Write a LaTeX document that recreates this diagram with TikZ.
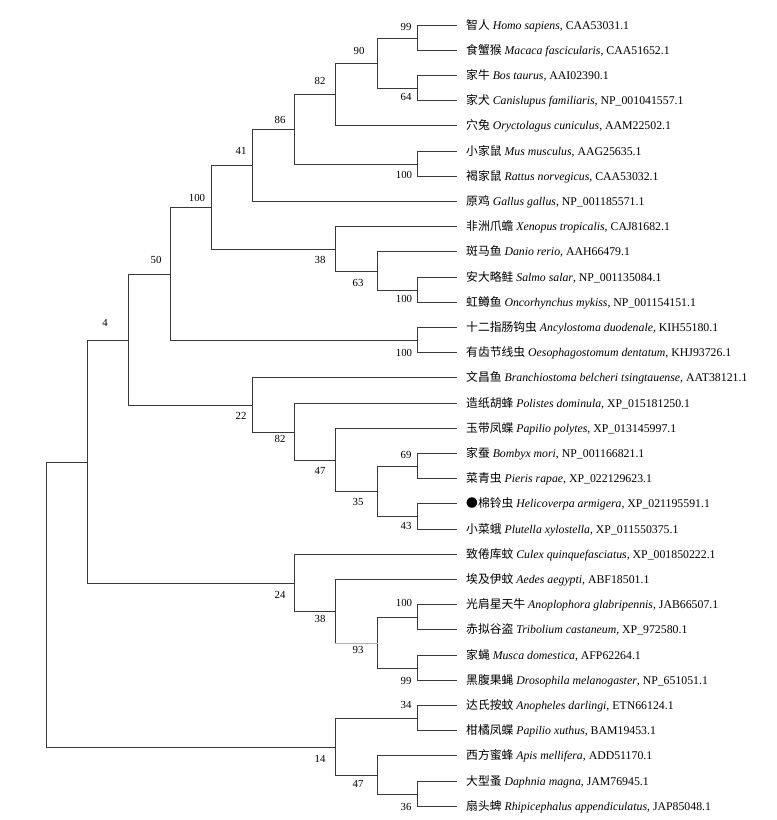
\documentclass[tikz,border=0pt]{standalone}
\usepackage{fontspec}
\setmainfont{Liberation Serif}
\newfontfamily\cjk{Noto Sans CJK SC}
\begin{document}
\begin{tikzpicture}[x=1pt,y=-1pt,
  br/.style={draw=black!78,line width=1.15pt,line cap=rect},
  brgray/.style={draw=black!30,line width=1.3pt,line cap=rect},
  leaf/.style={anchor=west,inner xsep=9.5pt,inner ysep=0pt,font=\fontsize{11.8}{13}\selectfont},
  bs/.style={anchor=center,inner sep=0pt,font=\fontsize{10.8}{12}\selectfont}]
\useasboundingbox (0,0) rectangle (777,820);
% leaves
\node[leaf] (t1) at (456.5,25.5) {{\cjk 智人} \textit{Homo sapiens}, CAA53031.1};
\node[leaf] (t2) at (456.5,50.5) {{\cjk 食蟹猴} \textit{Macaca fascicularis}, CAA51652.1};
\node[leaf] (t3) at (456.5,75.5) {{\cjk 家牛} \textit{Bos taurus}, AAI02390.1};
\node[leaf] (t4) at (456.5,100.5) {{\cjk 家犬} \textit{Canislupus familiaris}, NP\_001041557.1};
\node[leaf] (t5) at (456.5,125.5) {{\cjk 穴兔} \textit{Oryctolagus cuniculus}, AAM22502.1};
\node[leaf] (t6) at (456.5,151.5) {{\cjk 小家鼠} \textit{Mus musculus}, AAG25635.1};
\node[leaf] (t7) at (456.5,176.5) {{\cjk 褐家鼠} \textit{Rattus norvegicus}, CAA53032.1};
\node[leaf] (t8) at (456.5,201.5) {{\cjk 原鸡} \textit{Gallus gallus}, NP\_001185571.1};
\node[leaf] (t9) at (456.5,226.5) {{\cjk 非洲爪蟾} \textit{Xenopus tropicalis}, CAJ81682.1};
\node[leaf] (t10) at (456.5,251.5) {{\cjk 斑马鱼} \textit{Danio rerio}, AAH66479.1};
\node[leaf] (t11) at (456.5,277.5) {{\cjk 安大略鲑} \textit{Salmo salar}, NP\_001135084.1};
\node[leaf] (t12) at (456.5,302.5) {{\cjk 虹鳟鱼} \textit{Oncorhynchus mykiss}, NP\_001154151.1};
\node[leaf] (t13) at (456.5,327.5) {{\cjk 十二指肠钩虫} \textit{Ancylostoma duodenale}, KIH55180.1};
\node[leaf] (t14) at (456.5,352.5) {{\cjk 有齿节线虫} \textit{Oesophagostomum dentatum}, KHJ93726.1};
\node[leaf] (t15) at (456.5,377.5) {{\cjk 文昌鱼} \textit{Branchiostoma belcheri tsingtauense}, AAT38121.1};
\node[leaf] (t16) at (456.5,403.5) {{\cjk 造纸胡蜂} \textit{Polistes dominula}, XP\_015181250.1};
\node[leaf] (t17) at (456.5,428.5) {{\cjk 玉带凤蝶} \textit{Papilio polytes}, XP\_013145997.1};
\node[leaf] (t18) at (456.5,453.5) {{\cjk 家蚕} \textit{Bombyx mori}, NP\_001166821.1};
\node[leaf] (t19) at (456.5,478.5) {{\cjk 菜青虫} \textit{Pieris rapae}, XP\_022129623.1};
\node[leaf] (t20) at (456.5,503.5) {{\cjk ●棉铃虫} \textit{Helicoverpa armigera}, XP\_021195591.1};
\node[leaf] (t21) at (456.5,529.5) {{\cjk 小菜蛾} \textit{Plutella xylostella}, XP\_011550375.1};
\node[leaf] (t22) at (456.5,554.5) {{\cjk 致倦库蚊} \textit{Culex quinquefasciatus}, XP\_001850222.1};
\node[leaf] (t23) at (456.5,579.5) {{\cjk 埃及伊蚊} \textit{Aedes aegypti}, ABF18501.1};
\node[leaf] (t24) at (456.5,604.5) {{\cjk 光肩星天牛} \textit{Anoplophora glabripennis}, JAB66507.1};
\node[leaf] (t25) at (456.5,629.5) {{\cjk 赤拟谷盗} \textit{Tribolium castaneum}, XP\_972580.1};
\node[leaf] (t26) at (456.5,655.5) {{\cjk 家蝇} \textit{Musca domestica}, AFP62264.1};
\node[leaf] (t27) at (456.5,680.5) {{\cjk 黑腹果蝇} \textit{Drosophila melanogaster}, NP\_651051.1};
\node[leaf] (t28) at (456.5,705.5) {{\cjk 达氏按蚊} \textit{Anopheles darlingi}, ETN66124.1};
\node[leaf] (t29) at (456.5,730.5) {{\cjk 柑橘凤蝶} \textit{Papilio xuthus}, BAM19453.1};
\node[leaf] (t30) at (456.5,755.5) {{\cjk 西方蜜蜂} \textit{Apis mellifera}, ADD51170.1};
\node[leaf] (t31) at (456.5,781.5) {{\cjk 大型蚤} \textit{Daphnia magna}, JAM76945.1};
\node[leaf] (t32) at (456.5,806.5) {{\cjk 扇头蜱} \textit{Rhipicephalus appendiculatus}, JAP85048.1};
% internal nodes
\coordinate (n99a) at (417.5,38.5);
\coordinate (n64) at (417.5,88.5);
\coordinate (n90) at (377.5,63.5);
\coordinate (n82a) at (335.5,94.5);
\coordinate (n100m) at (417.5,164.5);
\coordinate (n86) at (294.5,129.5);
\coordinate (n41) at (252.5,165.5);
\coordinate (n100s) at (417.5,290.5);
\coordinate (n63) at (377.5,271.5);
\coordinate (n38a) at (335.5,249.5);
\coordinate (n100b) at (211.5,207.5);
\coordinate (n100n) at (417.5,340.5);
\coordinate (n50) at (170.5,274.5);
\coordinate (n69) at (417.5,466.5);
\coordinate (n43) at (417.5,516.5);
\coordinate (n35) at (377.5,491.5);
\coordinate (n47a) at (335.5,460.5);
\coordinate (n82b) at (294.5,432.5);
\coordinate (n22) at (252.5,405.5);
\coordinate (n4) at (128.5,340.5);
\coordinate (n100c) at (417.5,617.5);
\coordinate (n99b) at (417.5,668.5);
\coordinate (n93) at (377.5,643.5);
\coordinate (n38b) at (335.5,611.5);
\coordinate (n24) at (294.5,583.5);
\coordinate (nU) at (87.5,462.5);
\coordinate (n34) at (417.5,718.5);
\coordinate (n36) at (417.5,794.5);
\coordinate (n47b) at (377.5,775.5);
\coordinate (n14) at (335.5,747.5);
\coordinate (root) at (46.5,605.5);
% branches
\draw[br] (n99a) |- (t1.west); \draw[br] (n99a) |- (t2.west);
\draw[br] (n64) |- (t3.west); \draw[br] (n64) |- (t4.west);
\draw[br] (n90) |- (n99a); \draw[br] (n90) |- (n64);
\draw[br] (n82a) |- (n90); \draw[br] (n82a) |- (t5.west);
\draw[br] (n100m) |- (t6.west); \draw[br] (n100m) |- (t7.west);
\draw[br] (n86) |- (n82a); \draw[br] (n86) |- (n100m);
\draw[br] (n41) |- (n86); \draw[br] (n41) |- (t8.west);
\draw[br] (n100s) |- (t11.west); \draw[br] (n100s) |- (t12.west);
\draw[br] (n63) |- (t10.west); \draw[br] (n63) |- (n100s);
\draw[br] (n38a) |- (t9.west); \draw[br] (n38a) |- (n63);
\draw[br] (n100b) |- (n41); \draw[br] (n100b) |- (n38a);
\draw[br] (n100n) |- (t13.west); \draw[br] (n100n) |- (t14.west);
\draw[br] (n50) |- (n100b); \draw[br] (n50) |- (n100n);
\draw[br] (n69) |- (t18.west); \draw[br] (n69) |- (t19.west);
\draw[br] (n43) |- (t20.west); \draw[br] (n43) |- (t21.west);
\draw[br] (n35) |- (n69); \draw[br] (n35) |- (n43);
\draw[br] (n47a) |- (t17.west); \draw[br] (n47a) |- (n35);
\draw[br] (n82b) |- (t16.west); \draw[br] (n82b) |- (n47a);
\draw[br] (n22) |- (t15.west); \draw[br] (n22) |- (n82b);
\draw[br] (n4) |- (n50); \draw[br] (n4) |- (n22);
\draw[br] (n100c) |- (t24.west); \draw[br] (n100c) |- (t25.west);
\draw[br] (n99b) |- (t26.west); \draw[br] (n99b) |- (t27.west);
\draw[br] (n93) |- (n100c); \draw[br] (n93) |- (n99b);
\draw[br] (n38b) |- (t23.west);
\draw[br] (n38b) -- (n38b |- n93);
\draw[brgray] (n38b |- n93) -- (n93);
\draw[br] (n24) |- (t22.west); \draw[br] (n24) |- (n38b);
\draw[br] (nU) |- (n4); \draw[br] (nU) |- (n24);
\draw[br] (n34) |- (t28.west); \draw[br] (n34) |- (t29.west);
\draw[br] (n36) |- (t31.west); \draw[br] (n36) |- (t32.west);
\draw[br] (n47b) |- (t30.west); \draw[br] (n47b) |- (n36);
\draw[br] (n14) |- (n34); \draw[br] (n14) |- (n47b);
\draw[br] (root) |- (nU); \draw[br] (root) |- (n14);
% bootstrap values
\node[bs] (b1) at (406,27) {99};
\node[bs] (b2) at (406,97) {64};
\node[bs] (b3) at (404,175) {100};
\node[bs] (b4) at (359,51) {90};
\node[bs] (b5) at (320,81) {82};
\node[bs] (b6) at (280,120) {86};
\node[bs] (b7) at (241,151) {41};
\node[bs] (b8) at (197,198) {100};
\node[bs] (b9) at (156,260) {50};
\node[bs] (b10) at (320,260) {38};
\node[bs] (b11) at (358,283) {63};
\node[bs] (b12) at (404,299) {100};
\node[bs] (b13) at (404,353) {100};
\node[bs] (b14) at (105,323) {4};
\node[bs] (b15) at (241,416) {22};
\node[bs] (b16) at (280,439) {82};
\node[bs] (b17) at (320,471) {47};
\node[bs] (b18) at (358,502) {35};
\node[bs] (b19) at (406,455) {69};
\node[bs] (b20) at (406,526) {43};
\node[bs] (b21) at (280,595) {24};
\node[bs] (b22) at (320,619) {38};
\node[bs] (b23) at (358,650) {93};
\node[bs] (b24) at (404,603) {100};
\node[bs] (b25) at (406,681) {99};
\node[bs] (b26) at (406,705) {34};
\node[bs] (b27) at (320,759) {14};
\node[bs] (b28) at (358,784) {47};
\node[bs] (b29) at (406,807) {36};
\end{tikzpicture}
\end{document}
